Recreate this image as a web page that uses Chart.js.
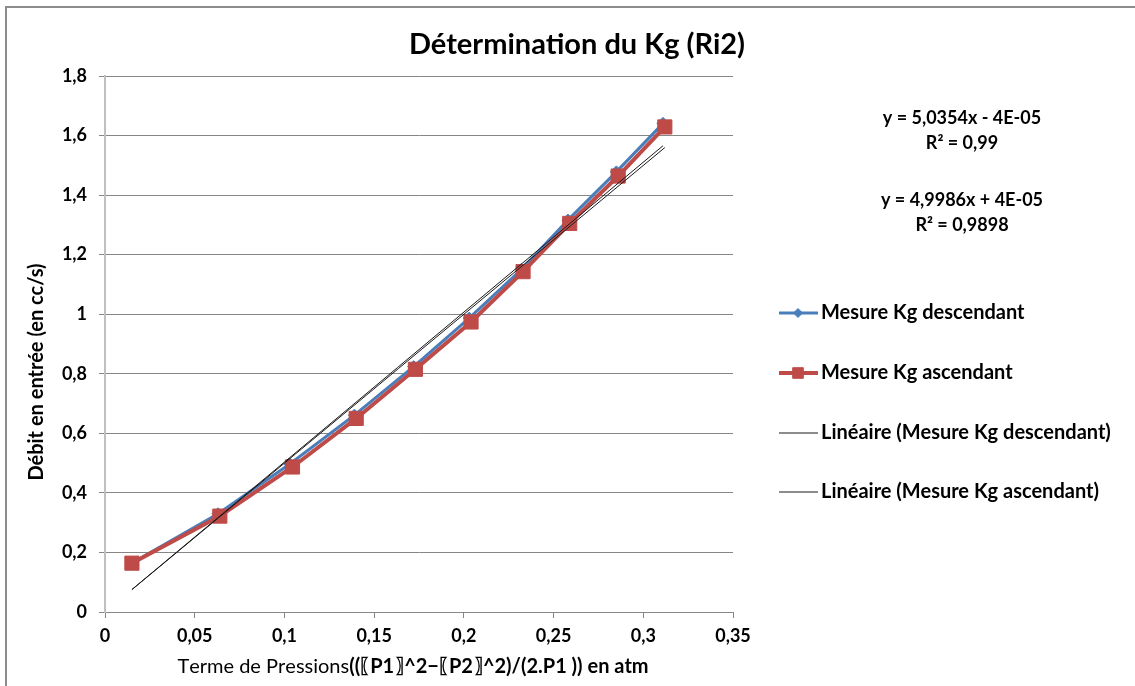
<!DOCTYPE html>
<html>
<head>
<meta charset="utf-8">
<script src="https://cdn.jsdelivr.net/npm/chart.js@4"></script>
<style>
  html, body { margin: 0; padding: 0; background: #fff; }
  #wrap { width: 1135px; height: 686px; position: relative; }
</style>
</head>
<body>
<div id="wrap"><canvas id="kg-chart" width="1135" height="686"></canvas></div>
<script>
// Mesure Kg descendant
const descX = [0.015, 0.063, 0.103, 0.139, 0.172, 0.203, 0.232, 0.258, 0.285, 0.311];
const descY = [0.164, 0.330, 0.497, 0.661, 0.824, 0.987, 1.150, 1.316, 1.478, 1.641];
// Mesure Kg ascendant
const ascX = [0.015, 0.064, 0.1045, 0.140, 0.173, 0.204, 0.233, 0.259, 0.286, 0.312];
const ascY = [0.164, 0.322, 0.487, 0.650, 0.815, 0.974, 1.143, 1.305, 1.464, 1.629];

// trend lines as given by the equations on the chart
const descTrend = { slope: 5.0354, intercept: -0.00004 };
const ascTrend = { slope: 4.9986, intercept: 0.00004 };

const equationLabels = [
    ['y = 5,0354x - 4E-05', 'R² = 0,99'],
    ['y = 4,9986x + 4E-05', 'R² = 0,9898']
];
const legendLabels = [
    'Mesure Kg descendant',
    'Mesure Kg ascendant',
    'Linéaire (Mesure Kg descendant)',
    'Linéaire (Mesure Kg ascendant)'
];

const FONT = 'Lato, "Open Sans", sans-serif';
const BLUE = '#4a7ebb';
const RED = '#be4b48';

function toPoints(xs, ys) {
    return xs.map(function(x, i) { return { x: x, y: ys[i] }; });
}

function trendPoints(xs, t) {
    const lo = Math.min.apply(null, xs);
    const hi = Math.max.apply(null, xs);
    return [lo, hi].map(function(x) { return { x: x, y: t.slope * x + t.intercept }; });
}

function fmt(v) {
    return String(Math.round(v * 100) / 100).replace('.', ',');
}

// the 〖 〗 brackets come from a CJK font with a full-width cell,
// so place them by their ink instead of their advance
function isBracket(ch) { return ch === '〖' || ch === '〗'; }

function drawRun(ctx, text, x, y, dry) {
    for (const ch of text) {
        const m = ctx.measureText(ch);
        if (isBracket(ch)) {
            const l = m.actualBoundingBoxLeft, r = m.actualBoundingBoxRight;
            if (!dry) ctx.fillText(ch, x + 1 + l, y);
            x += l + r + 2;
        } else {
            if (!dry) ctx.fillText(ch, x, y);
            x += m.width;
        }
    }
    return x;
}

// titles, legend and equations drawn around the plot
const decorPlugin = {
    id: 'decor',
    beforeDraw(chart) {
        const ctx = chart.ctx;
        ctx.save();
        ctx.fillStyle = '#fff';
        ctx.fillRect(0, 0, chart.width, chart.height);
        ctx.strokeStyle = '#8c8c8c';
        ctx.lineWidth = 2;
        ctx.strokeRect(6, 7, chart.width + 20, chart.height + 20);
        ctx.restore();
    },
    afterDraw(chart) {
        const ctx = chart.ctx;
        ctx.save();
        ctx.fillStyle = '#000';
        ctx.textBaseline = 'middle';

        // main title
        ctx.textAlign = 'center';
        ctx.font = 'bold 29px ' + FONT;
        ctx.fillText('Détermination du Kg (Ri2)', 577, 45);

        // y title
        ctx.save();
        ctx.translate(37, 372);
        ctx.rotate(-Math.PI / 2);
        ctx.font = 'bold 20px ' + FONT;
        ctx.fillText('Débit en entrée (en cc/s)', 0, 0);
        ctx.restore();

        // x title, mixed weight
        const partA = 'Terme de Pressions';
        const partB = '((〖P1〗^2−〖P2〗^2)/(2.P1 )) en atm';
        ctx.textAlign = 'left';
        ctx.font = '20px ' + FONT;
        const wA = drawRun(ctx, partA, 0, 0, true);
        ctx.font = 'bold 20px ' + FONT;
        const wB = drawRun(ctx, partB, 0, 0, true);
        const x0 = 413 - (wA + wB) / 2;
        ctx.font = '20px ' + FONT;
        const x1 = drawRun(ctx, partA, x0, 667);
        ctx.font = 'bold 20px ' + FONT;
        drawRun(ctx, partB, x1, 667);

        // trend equations
        ctx.textAlign = 'center';
        ctx.font = 'bold 18px ' + FONT;
        const eqY = [[118, 143], [200, 225]];
        equationLabels.forEach(function(lines, i) {
            lines.forEach(function(line, j) {
                ctx.fillText(line, 962, eqY[i][j]);
            });
        });

        // legend
        const rows = [313, 373, 433, 492];
        chart.data.datasets.slice().sort(function(a, b) { return a.legendIndex - b.legendIndex; })
            .forEach(function(ds, i) {
                const y = rows[i];
                ctx.strokeStyle = ds.borderColor;
                ctx.lineWidth = ds.borderWidth;
                ctx.beginPath();
                ctx.moveTo(779, y);
                ctx.lineTo(818, y);
                ctx.stroke();
                if (ds.pointRadius > 0) {
                    ctx.fillStyle = ds.pointBackgroundColor;
                    ctx.strokeStyle = ds.pointBorderColor;
                    ctx.lineWidth = 1;
                    Chart.helpers.drawPoint(ctx, {
                        pointStyle: ds.pointStyle,
                        rotation: 0,
                        borderWidth: 1,
                        radius: ds.pointRadius * 0.75
                    }, 798, y);
                }
                ctx.fillStyle = '#000';
                ctx.textAlign = 'left';
                ctx.font = 'bold 20px ' + FONT;
                ctx.fillText(legendLabels[ds.legendIndex], 821, y);
            });
        ctx.restore();
    }
};

const ctx = document.getElementById('kg-chart');

new Chart(ctx, {
    type: 'scatter',
    data: {
        datasets: [
            {
                label: legendLabels[2],
                legendIndex: 2,
                data: trendPoints(descX, descTrend),
                showLine: true,
                borderColor: '#1a1a1a',
                borderWidth: 1,
                pointRadius: 0,
                order: 0
            },
            {
                label: legendLabels[3],
                legendIndex: 3,
                data: trendPoints(ascX, ascTrend),
                showLine: true,
                borderColor: '#1a1a1a',
                borderWidth: 1,
                pointRadius: 0,
                order: 0
            },
            {
                label: legendLabels[1],
                legendIndex: 1,
                data: toPoints(ascX, ascY),
                showLine: true,
                borderColor: RED,
                borderWidth: 4,
                pointStyle: 'rect',
                pointRadius: 10,
                pointBackgroundColor: RED,
                pointBorderColor: RED,
                pointBorderWidth: 1,
                order: 1
            },
            {
                label: legendLabels[0],
                legendIndex: 0,
                data: toPoints(descX, descY),
                showLine: true,
                borderColor: BLUE,
                borderWidth: 3,
                pointStyle: 'rectRot',
                pointRadius: 6,
                pointBackgroundColor: BLUE,
                pointBorderColor: BLUE,
                pointBorderWidth: 1,
                order: 2
            }
        ]
    },
    options: {
        responsive: false,
        animation: false,
        layout: {
            padding: { top: 76, right: 402, left: 0, bottom: 0 }
        },
        plugins: {
            legend: { display: false },
            title: { display: false },
            tooltip: { enabled: false }
        },
        scales: {
            x: {
                type: 'linear',
                min: 0,
                max: 0.35,
                afterFit: function(scale) { scale.height = 74; },
                ticks: {
                    stepSize: 0.05,
                    padding: 7,
                    color: '#000',
                    font: { family: FONT, size: 18, weight: 'bold' },
                    callback: function(v) { return fmt(v); }
                },
                grid: {
                    drawOnChartArea: false,
                    drawTicks: true,
                    tickLength: 6,
                    color: '#868686'
                },
                border: { color: '#868686', width: 1 }
            },
            y: {
                min: 0,
                max: 1.8,
                afterFit: function(scale) { scale.width = 105; },
                ticks: {
                    stepSize: 0.2,
                    padding: 12,
                    color: '#000',
                    font: { family: FONT, size: 18, weight: 'bold' },
                    callback: function(v) { return fmt(v); }
                },
                grid: {
                    color: '#868686',
                    tickLength: 6
                },
                border: { color: '#c0c0c0', width: 2 }
            }
        }
    },
    plugins: [decorPlugin]
});
</script>
</body>
</html>
